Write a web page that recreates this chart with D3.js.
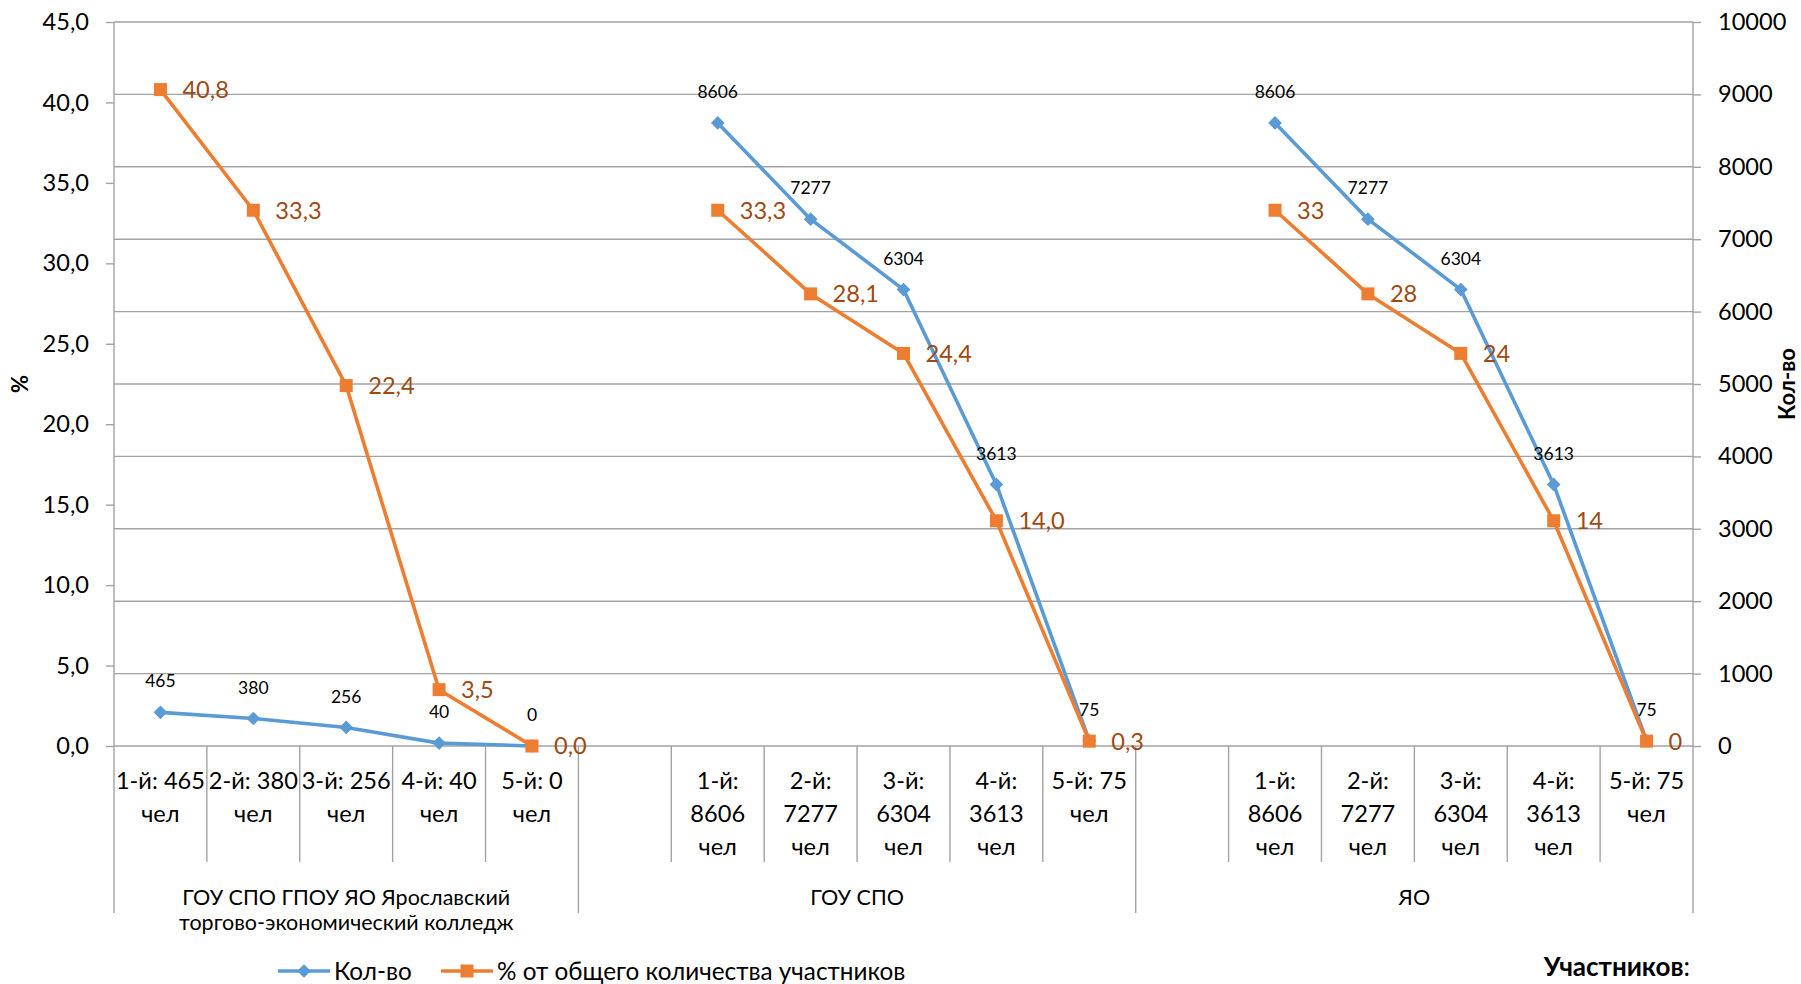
<!DOCTYPE html>
<html>
<head>
<meta charset="utf-8">
<script src="https://cdn.jsdelivr.net/npm/d3@7/dist/d3.min.js"></script>
<style>
  html, body { margin: 0; padding: 0; background: #fff; }
  svg { display: block; }
  text { font-family: Lato, "Noto Sans", "Liberation Sans", sans-serif; }
</style>
</head>
<body>
<svg id="chart" width="1801" height="984"></svg>
<script>
// ---------- DATA ----------
const groupNames = [
  ["ГОУ СПО ГПОУ ЯО Ярославский", "торгово-экономический колледж"],
  ["ГОУ СПО"],
  ["ЯО"]
];
const groupLeadingBlanks = [0, 1, 1];
const categoryLabels = [
  [["1-й: 465", "чел"], ["2-й: 380", "чел"], ["3-й: 256", "чел"], ["4-й: 40", "чел"], ["5-й: 0", "чел"]],
  [["1-й:", "8606", "чел"], ["2-й:", "7277", "чел"], ["3-й:", "6304", "чел"], ["4-й:", "3613", "чел"], ["5-й: 75", "чел"]],
  [["1-й:", "8606", "чел"], ["2-й:", "7277", "чел"], ["3-й:", "6304", "чел"], ["4-й:", "3613", "чел"], ["5-й: 75", "чел"]]
];
const countValues = [
  [465, 380, 256, 40, 0],
  [8606, 7277, 6304, 3613, 75],
  [8606, 7277, 6304, 3613, 75]
];
const pctValues = [
  [40.8, 33.3, 22.4, 3.5, 0.0],
  [33.3, 28.1, 24.4, 14.0, 0.3],
  [33.3, 28.1, 24.4, 14.0, 0.3]
];
const pctLabelDecimals = [1, 1, 0];
const leftTicks = [0, 5, 10, 15, 20, 25, 30, 35, 40, 45];
const rightTicks = [0, 1000, 2000, 3000, 4000, 5000, 6000, 7000, 8000, 9000, 10000];
const seriesNames = ["Кол-во", "% от общего количества участников"];
const leftTitle = "%";
const rightTitle = "Кол-во";
const xTitle = "Участников";

// ---------- LAYOUT ----------
const W = 1801, H = 984;
const plotL = 114, plotR = 1693, plotT = 22, plotB = 746;
const catTickShort = 862, catTickLong = 913;
const blue = "#5B9BD5", orange = "#ED7D31", pctLabelColor = "#9E4A12";
const gridColor = "#A3A3A3";
const fs = 23.6;

const svg = d3.select("#chart");
svg.append("rect").attr("width", W).attr("height", H).attr("fill", "#fff");

// build slots
const slots = [];
groupNames.forEach((gn, g) => {
  for (let b = 0; b < groupLeadingBlanks[g]; b++) slots.push({ key: `g${g}-b${b}`, g, blank: true });
  categoryLabels[g].forEach((lab, i) => {
    slots.push({ key: `g${g}-c${i}`, g, i, blank: false, lab });
  });
});

const x = d3.scaleBand().domain(slots.map(s => s.key)).range([plotL, plotR]).padding(0);
const yL = d3.scaleLinear().domain([0, 45]).range([plotB, plotT]);
const yR = d3.scaleLinear().domain([0, 10000]).range([plotB, plotT]);
const bw = x.bandwidth();
const cx = key => x(key) + bw / 2;

// gridlines (follow right axis)
svg.append("g").selectAll("line").data(rightTicks).join("line")
  .attr("x1", plotL).attr("x2", plotR)
  .attr("y1", d => yR(d)).attr("y2", d => yR(d))
  .attr("stroke", gridColor).attr("stroke-width", 1.4);

// left axis
const gL = svg.append("g").attr("transform", `translate(${plotL},0)`)
  .call(d3.axisLeft(yL).tickValues(leftTicks).tickSize(8).tickPadding(17)
    .tickFormat(d => d.toFixed(1).replace(".", ",")));
gL.select(".domain").remove();
gL.selectAll(".tick line").attr("stroke", gridColor).attr("stroke-width", 1.4);
gL.selectAll(".tick text").attr("font-size", fs).attr("fill", "#000")
  .style("font-family", "Lato, 'Noto Sans', sans-serif");

// right axis
const gR = svg.append("g").attr("transform", `translate(${plotR},0)`)
  .call(d3.axisRight(yR).tickValues(rightTicks).tickSize(8).tickPadding(17).tickFormat(d3.format("d")));
gR.select(".domain").remove();
gR.selectAll(".tick line").attr("stroke", gridColor).attr("stroke-width", 1.4);
gR.selectAll(".tick text").attr("font-size", fs).attr("fill", "#000")
  .style("font-family", "Lato, 'Noto Sans', sans-serif");

// vertical axis lines
svg.append("line").attr("x1", plotL).attr("x2", plotL).attr("y1", plotT).attr("y2", catTickLong)
  .attr("stroke", gridColor).attr("stroke-width", 1.4);
svg.append("line").attr("x1", plotR).attr("x2", plotR).attr("y1", plotT).attr("y2", catTickLong)
  .attr("stroke", gridColor).attr("stroke-width", 1.4);

// category separators
const boundaries = [];
slots.forEach((s, idx) => {
  if (idx === 0) return;
  const long = s.g !== slots[idx - 1].g;
  boundaries.push({ xPos: x(s.key), long });
});
svg.append("g").selectAll("line").data(boundaries).join("line")
  .attr("x1", d => d.xPos).attr("x2", d => d.xPos)
  .attr("y1", plotB).attr("y2", d => d.long ? catTickLong : catTickShort)
  .attr("stroke", gridColor).attr("stroke-width", 1.4);

// category labels
const catG = svg.append("g");
slots.filter(s => !s.blank).forEach(s => {
  const t = catG.append("text").attr("x", cx(s.key)).attr("text-anchor", "middle")
    .attr("font-size", fs).attr("fill", "#000");
  s.lab.forEach((line, li) => {
    t.append("tspan").attr("x", cx(s.key)).attr("y", 789 + li * 33).text(line);
  });
});

// group labels
groupNames.forEach((gn, g) => {
  const gs = slots.filter(s => s.g === g);
  const x0 = x(gs[0].key), x1 = x(gs[gs.length - 1].key) + bw;
  const t = svg.append("text").attr("text-anchor", "middle").attr("font-size", 21.5).attr("fill", "#000");
  gn.forEach((line, li) => {
    t.append("tspan").attr("x", (x0 + x1) / 2).attr("y", 905 + li * 25).text(line);
  });
});

// series
const lineCount = d3.line().x(d => d.x).y(d => yR(d.v));
const linePct = d3.line().x(d => d.x).y(d => yL(d.v));
const seriesData = groupNames.map((gn, g) => countValues[g].map((v, i) => ({ x: cx(`g${g}-c${i}`), v, g, i })));
const pctData = groupNames.map((gn, g) => pctValues[g].map((v, i) => ({ x: cx(`g${g}-c${i}`), v, g, i })));

// blue lines
svg.append("g").selectAll("path").data(seriesData).join("path")
  .attr("d", lineCount).attr("fill", "none").attr("stroke", blue).attr("stroke-width", 3.6)
  .attr("stroke-linejoin", "round");
svg.append("g").selectAll("path").data(seriesData.flat()).join("path")
  .attr("d", d3.symbol(d3.symbolDiamond2, 120))
  .attr("transform", d => `translate(${d.x},${yR(d.v)})`)
  .attr("fill", blue);

// orange lines
svg.append("g").selectAll("path").data(pctData).join("path")
  .attr("d", linePct).attr("fill", "none").attr("stroke", orange).attr("stroke-width", 3.6)
  .attr("stroke-linejoin", "round");
svg.append("g").selectAll("rect").data(pctData.flat()).join("rect")
  .attr("x", d => d.x - 6.5).attr("y", d => yL(d.v) - 6.5)
  .attr("width", 13).attr("height", 13).attr("fill", orange);

// data labels
svg.append("g").selectAll("text").data(seriesData.flat()).join("text")
  .attr("x", d => d.x).attr("y", d => yR(d.v) - 31)
  .attr("dy", "0.35em").attr("text-anchor", "middle")
  .attr("font-size", 17.5).attr("fill", "#000").text(d => d3.format("d")(d.v));
svg.append("g").selectAll("text").data(pctData.flat()).join("text")
  .attr("x", d => d.x + 22).attr("y", d => yL(d.v))
  .attr("dy", "0.36em").attr("text-anchor", "start")
  .attr("font-size", fs).attr("fill", pctLabelColor)
  .text(d => d.v.toFixed(pctLabelDecimals[d.g]).replace(".", ","));

// axis titles
svg.append("text").attr("transform", `translate(28,${(plotT + plotB) / 2}) rotate(-90)`)
  .attr("text-anchor", "middle").attr("font-size", 22).attr("font-weight", "bold").text(leftTitle);
svg.append("text").attr("transform", `translate(1795,${(plotT + plotB) / 2}) rotate(-90)`)
  .attr("text-anchor", "middle").attr("font-size", 22).attr("font-weight", "bold").text(rightTitle);
const xt = svg.append("text").attr("x", 1690).attr("y", 976).attr("text-anchor", "end").attr("font-size", 26);
xt.append("tspan").attr("font-weight", "bold").text(xTitle);
xt.append("tspan").text(":");

// legend
const lg = svg.append("g");
const legendItems = [
  { name: seriesNames[0], color: blue, marker: "diamond", x0: 278 },
  { name: seriesNames[1], color: orange, marker: "square", x0: 441 }
];
const ly = 971;
legendItems.forEach(it => {
  lg.append("line").attr("x1", it.x0).attr("x2", it.x0 + 52).attr("y1", ly).attr("y2", ly)
    .attr("stroke", it.color).attr("stroke-width", 3.6);
  if (it.marker === "diamond") {
    lg.append("path").attr("d", d3.symbol(d3.symbolDiamond2, 120)).attr("transform", `translate(${it.x0 + 26},${ly})`).attr("fill", it.color);
  } else {
    lg.append("rect").attr("x", it.x0 + 26 - 6.5).attr("y", ly - 6.5).attr("width", 13).attr("height", 13).attr("fill", it.color);
  }
  lg.append("text").attr("x", it.x0 + 56).attr("y", ly).attr("dy", "0.36em")
    .attr("font-size", 24.3).attr("fill", "#000").text(it.name);
});
</script>
</body>
</html>
